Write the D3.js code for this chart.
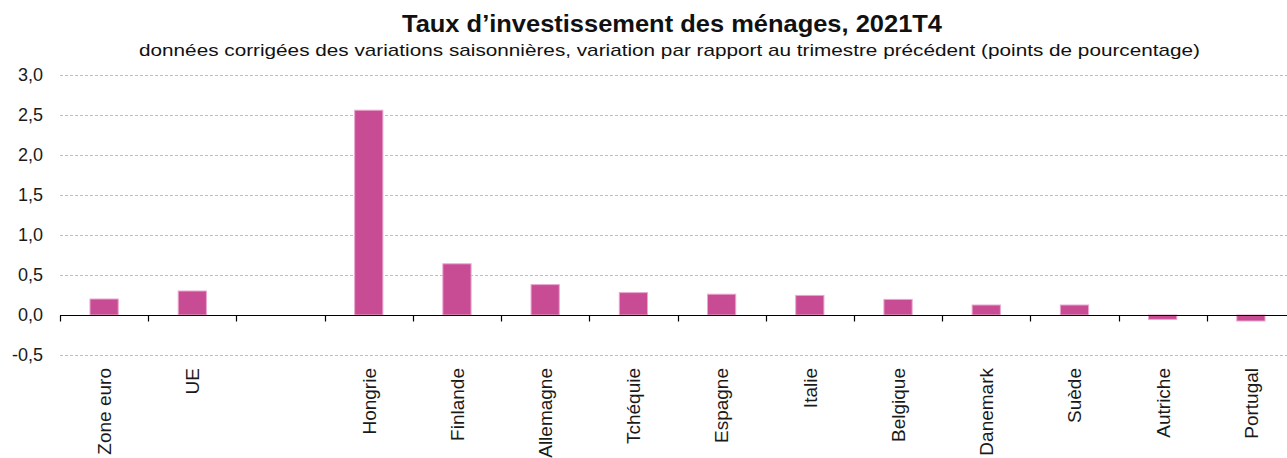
<!DOCTYPE html>
<html>
<head>
<meta charset="utf-8">
<script src="https://cdn.jsdelivr.net/npm/d3@7"></script>
<style>
  html, body { margin: 0; padding: 0; background: #fff; }
  svg { display: block; }
</style>
</head>
<body>
<svg id="chart" width="1287" height="458"></svg>
<script>
const categories = ["Zone euro", "UE", "", "Hongrie", "Finlande", "Allemagne", "Tchéquie", "Espagne", "Italie", "Belgique", "Danemark", "Suède", "Autriche", "Portugal"];
const values = [0.20, 0.30, null, 2.56, 0.64, 0.38, 0.28, 0.26, 0.245, 0.195, 0.125, 0.125, -0.055, -0.075];
const yTicks = [-0.5, 0, 0.5, 1.0, 1.5, 2.0, 2.5, 3.0];
const titleText = "Taux d\u2019investissement des ménages, 2021T4";
const subtitleText = "données corrigées des variations saisonnières, variation par rapport au trimestre précédent (points de pourcentage)";

const svg = d3.select("#chart");
const font = "'Liberation Sans', Arial, sans-serif";
const narrow = "'Liberation Sans Narrow', 'Arial Narrow', 'Liberation Sans', sans-serif";

const x = d3.scaleBand().domain(categories).range([60, 1295]).paddingInner(0.68).paddingOuter(0.34);
const y = d3.scaleLinear().domain([-0.5, 3.0]).range([355, 75]);
const fmt = v => d3.format(".1f")(v).replace(".", ",").replace("−", "-");

// Title
svg.append("text")
  .attr("x", 402).attr("y", 32)
  .attr("textLength", 540).attr("lengthAdjust", "spacingAndGlyphs")
  .style("font-family", narrow).style("font-weight", "bold").style("font-size", "24px")
  .style("fill", "#111")
  .text(titleText);

svg.append("text")
  .attr("x", 139).attr("y", 56)
  .attr("textLength", 1061).attr("lengthAdjust", "spacingAndGlyphs")
  .style("font-family", narrow).style("font-size", "17px")
  .style("fill", "#111")
  .text(subtitleText);

// Grid lines
svg.append("g").selectAll("line")
  .data(yTicks.filter(d => d !== 0))
  .join("line")
  .attr("x1", 60).attr("x2", 1295)
  .attr("y1", d => Math.round(y(d)) + 0.5).attr("y2", d => Math.round(y(d)) + 0.5)
  .attr("stroke", "#bdbdbd").attr("stroke-width", 1).attr("stroke-dasharray", "3,2");

// Y tick labels
svg.append("g").selectAll("text")
  .data(yTicks)
  .join("text")
  .attr("x", 43).attr("y", d => y(d))
  .attr("dy", "0.36em")
  .attr("text-anchor", "end")
  .style("font-family", font).style("font-size", "18px").style("fill", "#1a1a1a")
  .text(d => fmt(d));

// Bars
svg.append("g").selectAll("rect")
  .data(categories.map((c, i) => ({c, v: values[i]})).filter(d => d.v !== null))
  .join("rect")
  .attr("x", d => x(d.c))
  .attr("width", x.bandwidth())
  .attr("y", d => y(Math.max(0, d.v)))
  .attr("height", d => Math.abs(y(d.v) - y(0)))
  .attr("fill", "#c84c94")
  .attr("stroke", "#eaa6cf").attr("stroke-width", 1);

// X axis line with ticks at band boundaries
const y0 = Math.round(y(0)) + 0.5;
svg.append("line")
  .attr("x1", 60).attr("x2", 1295).attr("y1", y0).attr("y2", y0)
  .attr("stroke", "#000").attr("stroke-width", 1.2);

const boundaries = categories.map(c => x(c) - x.step() * x.paddingInner() / 2 - (x.step() - x.bandwidth() - x.step()*x.paddingInner()) / 2);
const bounds = categories.map((c, i) => x.range()[0] + i * x.step());
bounds.push(x.range()[0] + categories.length * x.step());
svg.append("g").selectAll("line")
  .data(bounds)
  .join("line")
  .attr("x1", d => Math.round(d) + 0.5).attr("x2", d => Math.round(d) + 0.5)
  .attr("y1", y0).attr("y2", y0 + 6)
  .attr("stroke", "#000").attr("stroke-width", 1.2);

// Category labels, rotated
svg.append("g").selectAll("text")
  .data(categories.filter(c => c !== ""))
  .join("text")
  .attr("transform", d => `translate(${x(d) + x.bandwidth() / 2},368) rotate(-90)`)
  .attr("dy", "0.36em")
  .attr("text-anchor", "end")
  .style("font-family", font).style("font-size", "19px").style("fill", "#1a1a1a")
  .text(d => d);
</script>
</body>
</html>
